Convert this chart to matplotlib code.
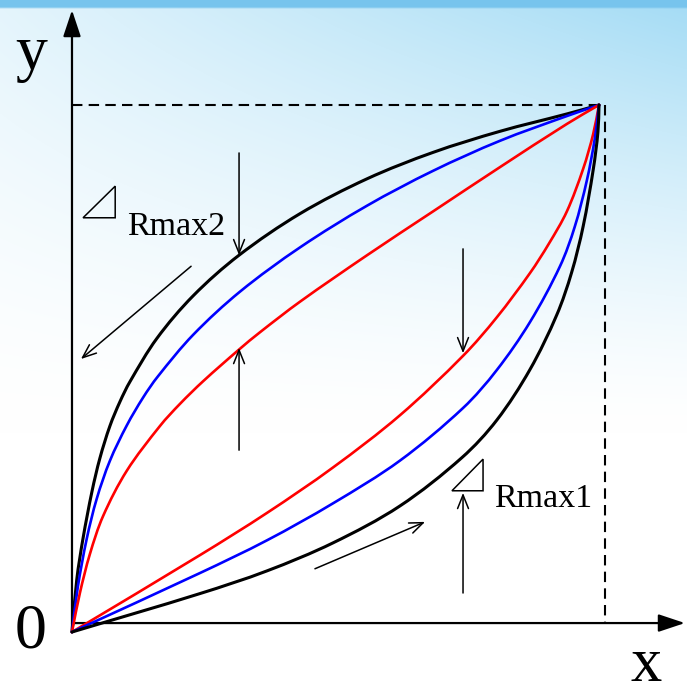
import numpy as np
import matplotlib.pyplot as plt
from matplotlib.path import Path
from matplotlib.patches import Polygon, PathPatch

plt.rcParams['font.family'] = ['Liberation Serif', 'DejaVu Serif']

# curve points, unit square: origin -> (0, 0), loop corner -> (1, 1)
black_up_x = [0, 0.009, 0.021, 0.038, 0.053, 0.072, 0.091, 0.110, 0.161, 0.230, 0.317, 0.433, 0.560, 0.685, 0.812, 0.939, 1]
black_up_y = [0, 0.099, 0.178, 0.267, 0.330, 0.391, 0.437, 0.475, 0.557, 0.638, 0.715, 0.794, 0.860, 0.910, 0.950, 0.983, 1]
blue_up_x = [0, 0.011, 0.028, 0.047, 0.072, 0.104, 0.135, 0.163, 0.230, 0.319, 0.433, 0.560, 0.685, 0.812, 0.939, 1]
blue_up_y = [0, 0.085, 0.177, 0.253, 0.325, 0.392, 0.445, 0.485, 0.564, 0.646, 0.730, 0.809, 0.875, 0.932, 0.979, 1]
red_up_x = [0, 0.015, 0.034, 0.059, 0.104, 0.167, 0.205, 0.249, 0.317, 0.357, 0.433, 0.560, 0.685, 0.812, 0.939, 1]
red_up_y = [0, 0.074, 0.148, 0.220, 0.306, 0.391, 0.433, 0.476, 0.536, 0.569, 0.627, 0.715, 0.798, 0.882, 0.964, 1]

red_lo_x = [0, 0.243, 0.370, 0.495, 0.622, 0.742, 0.806, 0.869, 0.905, 0.939, 0.970, 0.989, 1]
red_lo_y = [0, 0.146, 0.226, 0.312, 0.411, 0.524, 0.597, 0.681, 0.737, 0.798, 0.879, 0.945, 1]
blue_lo_x = [0, 0.243, 0.370, 0.495, 0.622, 0.742, 0.806, 0.869, 0.926, 0.954, 0.977, 0.992, 1]
blue_lo_y = [0, 0.112, 0.174, 0.244, 0.325, 0.425, 0.497, 0.588, 0.694, 0.769, 0.857, 0.936, 1]
black_lo_x = [0, 0.243, 0.370, 0.495, 0.622, 0.740, 0.806, 0.869, 0.920, 0.948, 0.970, 0.989, 0.998, 1]
black_lo_y = [0, 0.073, 0.116, 0.169, 0.239, 0.331, 0.402, 0.498, 0.602, 0.682, 0.770, 0.877, 0.949, 1]

labels = ['y', '0', 'x']
rmax_labels = ['Rmax2', 'Rmax1']

# (start, tip) of the thin annotation arrows
arrows = [((0.317, 0.909), (0.317, 0.715)),
          ((0.317, 0.345), (0.317, 0.539)),
          ((0.226, 0.694), (0.017, 0.518)),
          ((0.742, 0.727), (0.742, 0.529)),
          ((0.742, 0.074), (0.742, 0.264)),
          ((0.461, 0.120), (0.670, 0.209))]
triangles = [[(0.021, 0.786), (0.082, 0.786), (0.082, 0.846)],
             [(0.721, 0.268), (0.780, 0.268), (0.780, 0.328)]]


def unit(v):
    return v / np.hypot(v[0], v[1])


def smooth_path(xs, ys):
    # cubic bezier path through the read points, tangents from the neighbours
    p = np.column_stack([xs, ys]).astype(float)
    ext = np.vstack([p[0], p, p[-1]])
    verts = [p[0]]
    codes = [Path.MOVETO]
    for i in range(len(p) - 1):
        p0, p1, p2, p3 = ext[i], ext[i + 1], ext[i + 2], ext[i + 3]
        d = np.hypot(*(p2 - p1))
        c1 = p1 + unit(p2 - p0) * d / 3
        c2 = p2 - unit(p3 - p1) * d / 3
        verts += [c1, c2, p2]
        codes += [Path.CURVE4] * 3
    return Path(verts, codes)


fig = plt.figure(figsize=(6.87, 6.96), dpi=100)
ax = fig.add_axes([0, 0, 1, 1])
ax.set_xlim(-0.1366, 1.167)
ax.set_ylim(-0.1214, 1.1992)
ax.axis('off')

# light sky background
h, w = 348, 344
yy, xx = np.mgrid[0:h, 0:w]
fy = yy / h
fx = xx / w
wgt = np.clip(1 - fy / 0.62, 0, 1) ** 1.4 * (0.3 + 0.7 * fx)
base = np.array([1.0, 1.0, 1.0])
sky = np.array([0.64, 0.86, 0.96])
bg = base * (1 - wgt[..., None]) + sky * wgt[..., None]
band = fy < 0.011
bg[band] = [0.47, 0.77, 0.93]
ax.imshow(bg, extent=[0, 1, 0, 1], transform=ax.transAxes, aspect='auto', zorder=0,
          interpolation='bilinear')

# axes with filled heads
x_axis_y = 0.017
ax.annotate('', xy=(1.163, x_axis_y), xytext=(0, x_axis_y),
            arrowprops=dict(arrowstyle='-|>,head_length=0.9,head_width=0.3', color='black',
                            lw=1.6, mutation_scale=18, shrinkA=0, shrinkB=0), zorder=3)
ax.annotate('', xy=(0, 1.180), xytext=(0, 0),
            arrowprops=dict(arrowstyle='-|>,head_length=0.9,head_width=0.3', color='black',
                            lw=1.6, mutation_scale=18, shrinkA=0, shrinkB=0), zorder=3)

# dashed guides to the loop corner
ax.plot([0, 1], [1, 1], color='black', lw=1.5, ls=(0, (5, 3)), zorder=2)
ax.plot([1.011, 1.011], [1, x_axis_y], color='black', lw=1.5, ls=(0, (5, 3)), zorder=2)

curves = [(black_up_x, black_up_y, 'black', 2.2),
          (blue_up_x, blue_up_y, '#0000ff', 1.9),
          (red_up_x, red_up_y, '#ff0000', 1.9),
          (red_lo_x, red_lo_y, '#ff0000', 1.9),
          (blue_lo_x, blue_lo_y, '#0000ff', 1.9),
          (black_lo_x, black_lo_y, 'black', 2.2)]
for xs, ys, col, lw in curves:
    ax.add_patch(PathPatch(smooth_path(xs, ys), fill=False, edgecolor=col, lw=lw,
                           joinstyle='round', capstyle='round', zorder=4))

for start, tip in arrows:
    ax.annotate('', xy=tip, xytext=start,
                arrowprops=dict(arrowstyle='->,head_length=0.7,head_width=0.28', color='black',
                                lw=1.1, mutation_scale=14, shrinkA=0, shrinkB=0), zorder=5)

for tri in triangles:
    ax.add_patch(Polygon(tri, closed=True, fill=False, edgecolor='black', lw=1.1, zorder=5))

ax.text(0.104, 0.753, rmax_labels[0], fontsize=24.5, ha='left', va='baseline', zorder=5)
ax.text(0.801, 0.237, rmax_labels[1], fontsize=24.5, ha='left', va='baseline', zorder=5)

ax.text(-0.078, 1.068, labels[0], fontsize=46, ha='center', va='baseline', zorder=5)
ax.text(-0.078, -0.030, labels[1], fontsize=46, ha='center', va='baseline', zorder=5)
ax.text(1.089, -0.119, labels[2], fontsize=45, ha='center', va='bottom', zorder=5)

fig.savefig('out.png', dpi=100)
